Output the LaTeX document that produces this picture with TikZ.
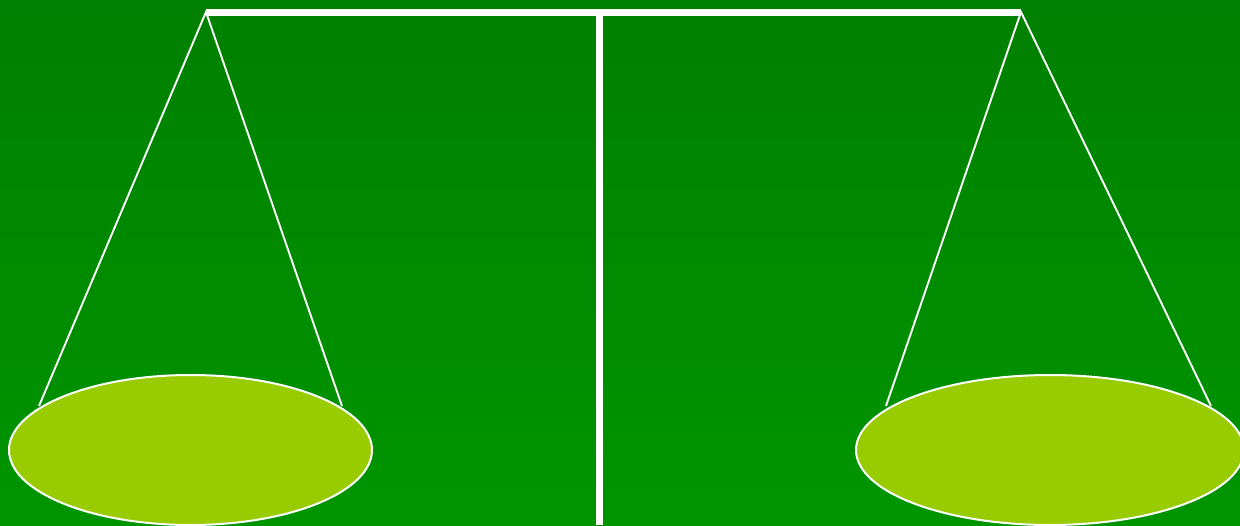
\documentclass[tikz,border=0pt]{standalone}
\usetikzlibrary{positioning,calc}

\definecolor{bgtop}{RGB}{0,128,0}
\definecolor{bgbottom}{RGB}{0,149,0}
\definecolor{panfill}{RGB}{153,204,0}

\begin{document}
\begin{tikzpicture}[
    x=1pt, y=-1pt,
    beam/.style={white, line width=7pt},
    cord/.style={white, line width=1.9pt},
    pan/.style={fill=panfill, draw=white, line width=2pt},
]

% background
\shade[top color=bgtop, bottom color=bgbottom] (0,0) rectangle (1240,525);
\useasboundingbox (0,0) rectangle (1240,525);

\begin{scope}
\clip (0,0) rectangle (1240,525);

% pivots and cord ends
\coordinate (hookL) at (206,12);
\coordinate (hookR) at (1021,12);
\coordinate (post) at (599,12);
\coordinate (base) at (599,525);
\coordinate (cordLa) at (39,406);
\coordinate (cordLb) at (342,406);
\coordinate (cordRa) at (886,406);
\coordinate (cordRb) at (1211,406);

% beam and post
\draw[beam] (hookL) -- (hookR);
\draw[beam] (post) -- (base);

% cords
\draw[cord] (cordLa) -- (hookL) -- (cordLb);
\draw[cord] (cordRa) -- (hookR) -- (cordRb);

% pans
\draw[pan] (190.5,450) ellipse [x radius=181.5, y radius=75];
\draw[pan] (1050,450) ellipse [x radius=194, y radius=75];
\end{scope}

\end{tikzpicture}
\end{document}
